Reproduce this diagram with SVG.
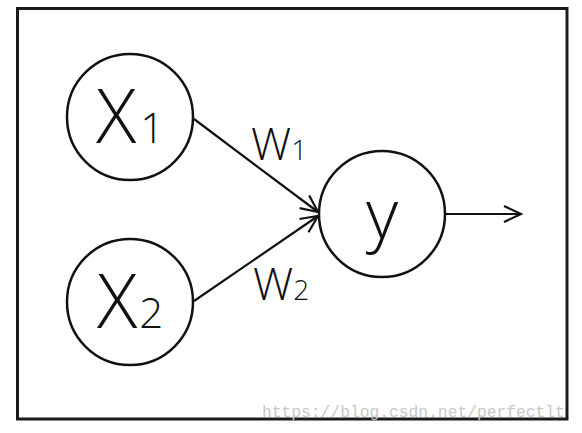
<svg xmlns="http://www.w3.org/2000/svg" width="582" height="433" viewBox="0 0 582 433">
<defs>
<style>
.frame{fill:#fff;stroke:#1a1a1a;stroke-width:3}
.node{fill:#fff;stroke:#111;stroke-width:2.5}
.edge{stroke:#111;stroke-width:2.2;fill:none}
.lbl{font-family:"Open Sans","Liberation Sans",sans-serif;font-weight:300;fill:#111}
.wm{font-family:"Liberation Mono","DejaVu Sans Mono",monospace;font-size:16.3px;fill:#c8c8c8}
</style>
<marker id="arr" viewBox="0 0 20 20" refX="18" refY="10" markerWidth="20" markerHeight="20" markerUnits="userSpaceOnUse" orient="auto">
<path d="M1,2 L18,10 L1,18" fill="none" stroke="#111" stroke-width="2.2"/>
</marker>
<clipPath id="wmclip"><rect x="0" y="0" width="567" height="433"/></clipPath>
</defs>
<rect x="0" y="0" width="582" height="433" fill="#fff"/>
<rect class="frame" x="17.5" y="8.5" width="549.5" height="410.5"/>
<g id="connectors">
<line class="edge" x1="194" y1="119" x2="318" y2="212" marker-end="url(#arr)"/>
<line class="edge" x1="194" y1="301" x2="318" y2="216" marker-end="url(#arr)"/>
<line class="edge" x1="446" y1="214" x2="521" y2="214" marker-end="url(#arr)"/>
<text class="lbl" x="251" y="160" font-size="45">W<tspan font-size="28">1</tspan></text>
<text class="lbl" x="253" y="300" font-size="45">W<tspan font-size="28">2</tspan></text>
</g>
<g id="x1">
<circle class="node" cx="130" cy="117" r="63"/>
<text class="lbl" x="96" y="143" font-size="75">X<tspan font-size="42" dx="4">1</tspan></text>
</g>
<g id="x2">
<circle class="node" cx="130" cy="302" r="63"/>
<text class="lbl" x="97" y="328" font-size="75">X<tspan font-size="42" dx="2">2</tspan></text>
</g>
<g id="y">
<circle class="node" cx="382" cy="214" r="63"/>
<text class="lbl" x="382" y="239" font-size="70" text-anchor="middle">y</text>
</g>
<text class="wm" x="262" y="417" clip-path="url(#wmclip)">https://blog.csdn.net/perfectlt</text>
</svg>
